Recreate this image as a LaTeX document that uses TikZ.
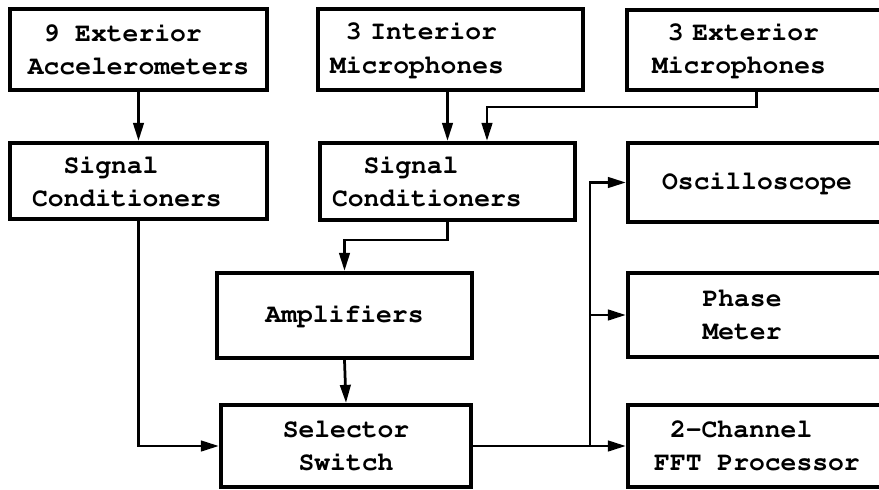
\documentclass[tikz,border=0pt]{standalone}
\usepackage[T1]{fontenc}
\usepackage{courier}
\usetikzlibrary{positioning, arrows.meta}

\begin{document}
\begin{tikzpicture}[
  x=0.02cm, y=-0.02cm,
  font=\ttfamily\bfseries\fontsize{15}{18.8}\selectfont,
  >={Triangle[length=3.6mm, width=2.1mm]},
  unit/.style={draw, line width=0.085cm, inner xsep=0pt, inner ysep=2pt, align=left, fill=white},
  arrow/.style={->, line width=0.055cm}
]

% Page (the right-hand column runs past the edge)
\clip (0,0) rectangle (879,490);
\fill[white] (0,0) rectangle (879,490);

% Transducers
\node[unit, minimum width=5.14cm, minimum height=1.62cm] (acc) at (138.5, 49.5)
  {\phantom{0}9 Exterior\\Accelerometers};
\node[unit, minimum width=5.3cm, minimum height=1.62cm, text width=4.82cm] (intmic) at (450.5, 49.5)
  {\phantom{0}3 Interior\\Microphones};
\node[unit, minimum width=5.18cm, minimum height=1.6cm, text width=4.18cm] (extmic) at (756.5, 50)
  {\phantom{0}3 Exterior\\Microphones};

% Conditioning
\node[unit, minimum width=5.14cm, minimum height=1.52cm, text width=4.26cm] (sigA) at (138.5, 181)
  {\phantom{00}Signal\\Conditioners};
\node[unit, minimum width=5.1cm, minimum height=1.54cm, text width=4.62cm] (sigB) at (447.5, 181.5)
  {\phantom{00}Signal\\Conditioners};
\node[unit, minimum width=5.1cm, minimum height=1.7cm] (amp) at (344.5, 315.5) {Amplifiers};
\node[unit, minimum width=5.0cm, minimum height=1.64cm, align=center] (sel) at (346, 446)
  {Selector\\Switch};

% Analysis
\node[unit, minimum width=5.16cm, minimum height=1.58cm] (scope) at (757, 182.5) {Oscilloscope};
\node[unit, minimum width=5.16cm, minimum height=1.68cm, text width=2.18cm] (phase) at (757, 315)
  {Phase\\Meter};
\node[unit, minimum width=5.16cm, minimum height=1.64cm] (fft) at (757, 446)
  {\phantom{0}2-Channel\\FFT Processor};

% Inputs -> conditioners
\draw[arrow] (acc.south) -- (sigA.north);
\draw[arrow] (intmic.south -| sigB.north) -- (sigB.north);
\coordinate (join) at (487, 107);
\draw[arrow] (extmic.south) |- (join) -- (join |- sigB.north);

% Conditioners -> amplifiers -> selector
\coordinate (drop) at (0, 240);
\draw[arrow] (sigB.south) |- (drop -| amp.north) -- (amp.north);
\draw[arrow] (amp.south) -- (sel.north);
\draw[arrow] (sigA.south) |- (sel.west);

% Selector -> analysers (one trunk, tapped upwards)
\draw[arrow] (sel.east) -- (fft.west);
\coordinate (tap) at (590, 446);
\foreach \dev in {scope, phase} {
  \draw[arrow] (tap) |- (\dev.west);
}

\end{tikzpicture}
\end{document}
